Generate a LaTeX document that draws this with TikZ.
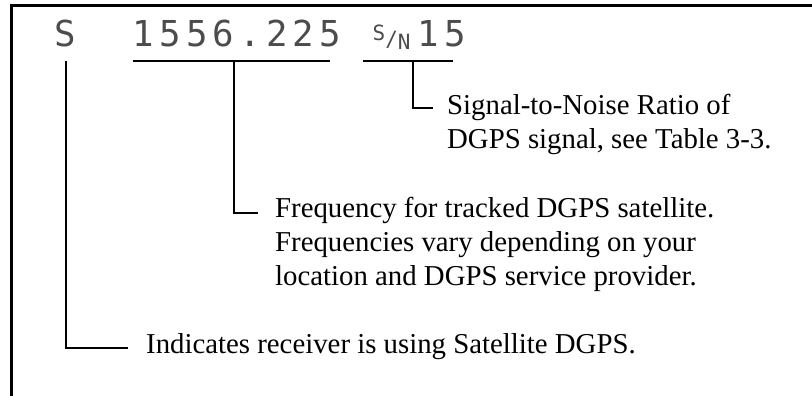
\documentclass[tikz,border=0pt]{standalone}
\usepackage{fontspec}
\setmainfont{Liberation Serif}
\newfontfamily\lcdfont[LetterSpace=14.5]{DejaVu Sans Mono}
\newfontfamily\lcdplain{DejaVu Sans Mono}
\usetikzlibrary{positioning,calc}
\tikzset{
  lcd/.style={font=\lcdfont\fontsize{35.7}{36}\selectfont, text=black!70, inner sep=0pt, anchor=base west},
  note/.style={font=\fontsize{28.8}{34}\selectfont, align=left, inner sep=0pt, anchor=base west},
  lead/.style={line width=1.8pt},
  frame/.style={line width=3pt}
}
\begin{document}
\begin{tikzpicture}[x=1pt,y=-1pt]
  \useasboundingbox (0,0) rectangle (812,396);
  \draw[frame] (812,5.5) -- (11.5,5.5) -- (11.5,396);
  % display line
  \node[lcd] (mode) at (54.7,47) {S};
  \node[lcd] (freq) at (132.6,47) {1556.225};
  \node[lcd, font=\lcdplain\fontsize{21}{21}\selectfont] (snsym) at (372.5,47)
    {\raisebox{6.5pt}{S}/\raisebox{-3pt}{N}};
  \node[lcd] (snval) at (417.7,47) {15};
  % underlines
  \coordinate (fq-l) at (133,61); \coordinate (fq-r) at (330,61);
  \coordinate (sn-l) at (363,61); \coordinate (sn-r) at (453,61);
  \draw[lead] (fq-l) -- (fq-r);
  \draw[lead] (sn-l) -- (sn-r);
  \coordinate (mode-d) at (66,61);
  \coordinate (fq-d) at (234,61);
  \coordinate (sn-d) at (413,61);
  % notes (base = last line)
  \node[note] (sntext) at (447,148) {Signal-to-Noise Ratio of\\DGPS signal, see Table 3-3.};
  \node[note] (fqtext) at (275,285) {Frequency for tracked DGPS satellite.\\Frequencies vary depending on your\\location and DGPS service provider.};
  \node[note] (modetext) at (146,353) {Indicates receiver is using Satellite DGPS.};
  \draw[lead] (sn-d) |- ([xshift=-14pt,yshift=40pt]sntext.base west);
  \draw[lead] (fq-d) |- ([xshift=-17pt,yshift=72pt]fqtext.base west);
  \draw[lead] (mode-d) |- ([xshift=-18pt,yshift=5pt]modetext.base west);
\end{tikzpicture}
\end{document}
